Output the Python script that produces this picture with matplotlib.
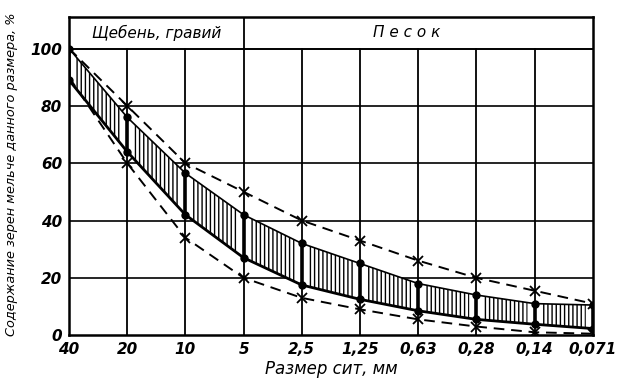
import matplotlib
matplotlib.use("Agg")
import matplotlib.pyplot as plt
import numpy as np

plt.rcParams['hatch.linewidth'] = 1.0
plt.rcParams['font.family'] = ['Liberation Sans Narrow', 'DejaVu Sans']

sieves = ["40", "20", "10", "5", "2,5", "1,25", "0,63", "0,28", "0,14", "0,071"]
band_upper = [100, 76, 56.5, 42, 32, 25, 18, 14, 11, 10.5]
band_lower = [89, 64, 42, 27, 17.5, 12.5, 8.5, 5.5, 3.8, 2.3]
limit_upper = [100, 80, 60, 50, 40, 33, 26, 20, 15.5, 11]
limit_lower = [90, 60, 34, 20, 13, 9, 5.5, 3, 1, 0.5]
yticks = [0, 20, 40, 60, 80, 100]
header_left = "Щебень, гравий"
header_right = "П е с о к"
xlabel = "Размер сит, мм"
ylabel = "Содержание зерен мельче данного размера, %"

x = np.arange(len(sieves))
fig = plt.figure(figsize=(6.22, 3.87), dpi=100)
ax = fig.add_axes([0.111, 0.134, 0.842, 0.822])
top = 111
ax.set_xlim(0, len(sieves) - 1)
ax.set_ylim(0, top)

# grid
for yt in yticks[1:-1]:
    ax.axhline(yt, color='black', lw=1.2, zorder=1)
ax.axhline(100, color='black', lw=1.4, zorder=4)
for xi in x[1:-1]:
    ymax = 1 if sieves[xi] == "5" else 100 / top
    ax.axvline(xi, ymin=0, ymax=ymax, color='black', lw=1.3, zorder=4)

# hatched band, one block per interval with small gaps at sieves
gap = 0.12
for i in range(len(x) - 1):
    xs = np.linspace(x[i] + gap, x[i + 1] - gap, 20)
    lo = np.interp(xs, x, band_lower)
    hi = np.interp(xs, x, band_upper)
    ax.fill_between([x[i], x[i + 1]], [band_lower[i], band_lower[i + 1]],
                    [band_upper[i], band_upper[i + 1]], facecolor='white',
                    edgecolor='none', lw=0, zorder=2)
    ax.fill_between(xs, lo, hi, facecolor='white', edgecolor='black',
                    hatch='||||', linewidth=0, zorder=2.5)

# band edges
ax.plot(x, band_upper, color='black', lw=1.2, zorder=5)
ax.plot(x, band_lower, color='black', lw=2.0, zorder=5)
ax.vlines(x, band_lower, band_upper, color='black', lw=2.6, zorder=5)
ax.plot(x, band_upper, 'o', color='black', ms=5, zorder=6)
ax.plot(x, band_lower, 'o', color='black', ms=5, zorder=6)

# limits
ax.plot(x, limit_upper, color='black', lw=1.4, ls=(0, (5.5, 3.5)), zorder=5)
ax.plot(x, limit_lower, color='black', lw=1.4, ls=(0, (5.5, 3.5)), zorder=5)
ax.plot(x[1:], limit_upper[1:], 'x', color='black', ms=6.5, mew=1.3, zorder=6)
ax.plot(x[1:], limit_lower[1:], 'x', color='black', ms=6.5, mew=1.3, zorder=6)

# header text
tkw = dict(style='italic', fontsize=11, ha='center', va='center')
ax.text(1.5, 105.5, header_left, **tkw)
ax.text(5.8, 105.5, header_right, **tkw)

for s in ax.spines.values():
    s.set_linewidth(1.8)

ax.set_xticks(x)
ax.set_xticklabels(sieves, style='italic', fontweight='bold', fontsize=11)
ax.set_yticks(yticks)
ax.set_yticklabels([str(v) for v in yticks], style='italic', fontweight='bold', fontsize=11)
ax.tick_params(length=0, pad=5)
ax.set_xlabel(xlabel, style='italic', fontsize=12, labelpad=2)
ax.set_ylabel(ylabel, style='italic', fontsize=9.3, labelpad=4)
ax.yaxis.set_label_coords(-0.098, 0.505)

fig.savefig("out.png", dpi=100)
